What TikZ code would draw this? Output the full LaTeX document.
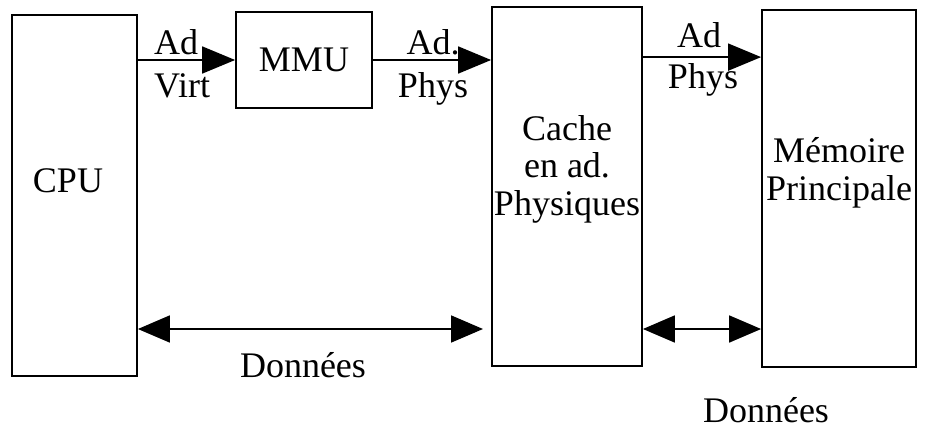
\documentclass[tikz,border=0pt]{standalone}
\usepackage{fontspec}
\setmainfont{Liberation Serif}
\usepackage{tikz}
\usetikzlibrary{positioning, arrows.meta}

\begin{document}
\begin{tikzpicture}[
    x=1pt, y=-1pt,
    box/.style={draw, line width=1.8pt, inner sep=0pt},
    txt/.style={font=\fontsize{36}{37.5}\selectfont, inner sep=0pt, align=center},
    arr/.style={-{Triangle[length=33pt, width=27pt]}, line width=1.8pt},
    darr/.style={{Triangle[length=32pt, width=27pt]}-{Triangle[length=32pt, width=27pt]}, line width=1.8pt},
]
    \useasboundingbox (0,0) rectangle (925,428);

    % Boxes
    \node[box, minimum width=125pt, minimum height=361pt] (cpu)   at (74.5, 195.5) {};
    \node[box, txt, minimum width=136pt, minimum height=96pt] (mmu) at (304, 60) {MMU};
    \node[box, minimum width=150pt, minimum height=359pt] (cache) at (567, 186.5) {};
    \node[box, minimum width=154pt, minimum height=357pt] (mem)   at (839, 188.5) {};

    \node[txt] (cputxt)   at (68, 181)  {CPU};
    \node[txt] (cachetxt) at (567, 169) {Cache\\en ad.\\Physiques};
    \node[txt] (memtxt)   at (839, 173) {Mémoire\\Principale};

    % Address path
    \draw[arr] (cpu.east |- mmu.west) -- (mmu.west);
    \draw[arr] (mmu.east) -- (mmu.east -| cache.west);
    \draw[arr] ([yshift=-51pt]cache.north east) -- ([yshift=-51pt]cache.north east -| mem.west);

    \node[txt, anchor=base west] (ad1)   at (154, 55) {Ad};
    \node[txt, anchor=base west] (virt)  at (154, 97) {Virt};
    \node[txt, anchor=base] (ad2)   at (433, 55) {Ad.};
    \node[txt, anchor=base] (phys2) at (433, 97) {Phys};
    \node[txt, anchor=base] (ad3)   at (699, 48) {Ad};
    \node[txt, anchor=base] (phys3) at (703, 88) {Phys};

    % Data path
    \coordinate (d1) at (483, 329);
    \draw[darr] (cpu.east |- d1) -- (d1);
    \draw[darr] (cache.east |- d1) -- (mem.west |- d1);

    \node[txt, anchor=base] (data1) at (303, 377) {Données};
    \node[txt, anchor=base] (data2) at (766, 422) {Données};
\end{tikzpicture}
\end{document}
